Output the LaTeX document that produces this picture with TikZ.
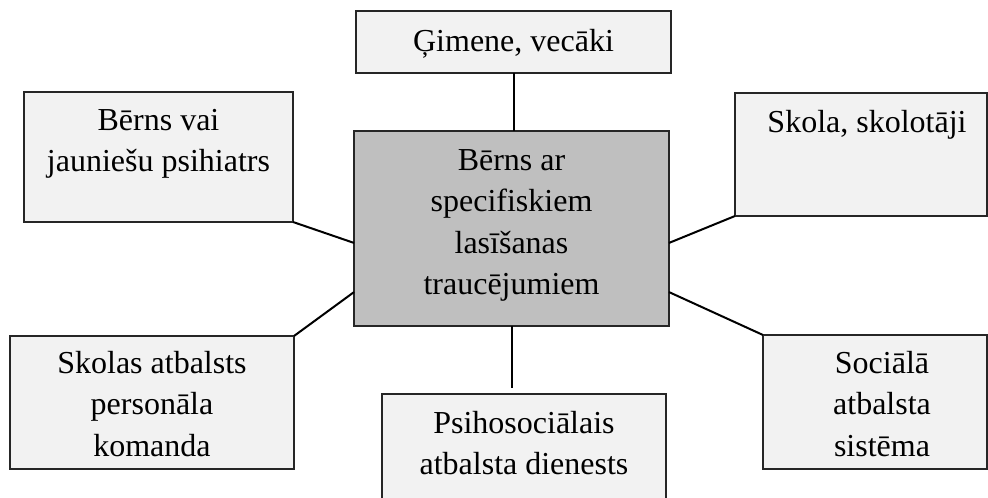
\documentclass[tikz,border=0pt]{standalone}
\usepackage{fontspec}
\setmainfont{Liberation Serif}
\usetikzlibrary{calc}
\definecolor{boxlight}{HTML}{F2F2F2}
\definecolor{boxdark}{HTML}{BFBFBF}
\definecolor{edgecol}{HTML}{262626}
\newcommand{\boxtext}[4]{\parbox[c][#2][t]{#1}{\centering\rule{0pt}{#3}#4}}
\begin{document}
\begin{tikzpicture}[x=0.5pt,y=-0.5pt,
  box/.style={draw=edgecol, line width=0.8pt, inner sep=0pt, outer sep=0pt,
    anchor=north west, fill=boxlight, font=\fontsize{16pt}{20.8pt}\selectfont},
  core/.style={box, fill=boxdark},
  link/.style={line width=1pt, draw=black}]
\useasboundingbox (0,0) rectangle (988,497);
\node[box] (top) at (356,11) {\boxtext{157.5pt}{31pt}{20.5pt}{Ģimene, vecāki}};
\node[box] (tl) at (24,92) {\boxtext{134.5pt}{65pt}{19pt}{Bērns vai\\jaunie\v{s}u psihiatrs}};
\node[box] (tr) at (735,93) {\boxtext{126pt}{61.5pt}{20pt}{\hspace*{6pt}Skola, skolotāji}};
\node[core] (ctr) at (354,131) {\boxtext{157.5pt}{97.5pt}{19.5pt}{Bērns ar\\specifiskiem\\lasīšanas\\traucējumiem}};
\node[box] (bl) at (10,336) {\boxtext{142pt}{66.5pt}{18.5pt}{Skolas atbalsts\\personāla\\komanda}};
\node[box] (bc) at (382,394) {\boxtext{142pt}{60pt}{19.5pt}{Psihosociālais\\atbalsta dienests}};
\node[box] (br) at (763,335) {\boxtext{112pt}{67pt}{19pt}{\hspace*{7pt}Sociālā\\\hspace*{7pt}atbalsta\\\hspace*{7pt}sistēma}};
\draw[link] (top.south) -- (top.south |- ctr.north);
\draw[link] (tl.south east) -- ($(ctr.north west)!0.574!(ctr.south west)$);
\draw[link] (bl.north east) -- ($(ctr.north west)!0.826!(ctr.south west)$);
\draw[link] (tr.south west) -- ($(ctr.north east)!0.574!(ctr.south east)$);
\draw[link] (br.north west) -- ($(ctr.north east)!0.826!(ctr.south east)$);
\draw[link, shorten >=3pt] (ctr.south) -- (ctr.south |- bc.north);
\end{tikzpicture}
\end{document}
